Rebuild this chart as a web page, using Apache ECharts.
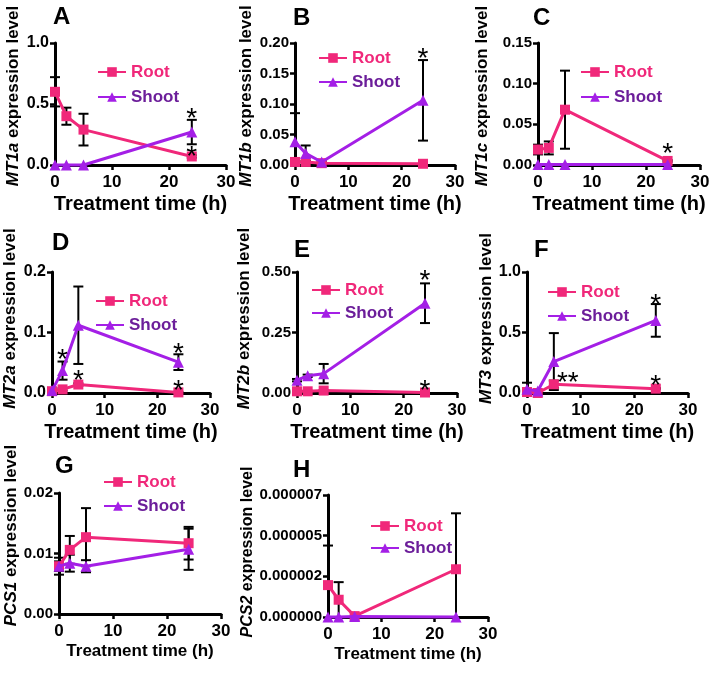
<!DOCTYPE html>
<html><head><meta charset="utf-8">
<script src="https://cdn.jsdelivr.net/npm/echarts@6/dist/echarts.min.js"></script>
<style>html,body{margin:0;padding:0;background:#fff}#c{width:714px;height:674px}</style>
</head><body><div id="c"></div>
<script>
// ---------- data ----------
const times = [0, 2, 5, 24];
const xTicks = [0, 10, 20, 30];

const mt1aRoot = [0.60, 0.40, 0.29, 0.07];
const mt1aRootSd = [0.12, 0.07, 0.13, 0.01];
const mt1aShoot = [0.00, 0.00, 0.00, 0.27];
const mt1aShootSd = [0, 0, 0, 0.10];
const mt1aStars = [[24, 0.44, 1], [24, 0.13, 1]];

const mt1bRoot = [0.005, 0.005, 0.003, 0.002];
const mt1bRootSd = [0.002, 0.002, 0.001, 0.001];
const mt1bShoot = [0.038, 0.019, 0.005, 0.106];
const mt1bShootSd = [0.047, 0.013, 0.002, 0.066];
const mt1bStars = [[24, 0.186, 1]];

const mt1cRoot = [0.019, 0.021, 0.068, 0.005];
const mt1cRootSd = [0.006, 0.008, 0.048, 0.001];
const mt1cShoot = [0.0005, 0.0005, 0.0005, 0.0005];
const mt1cShootSd = [0, 0, 0, 0];
const mt1cStars = [[24, 0.0226, 1]];

const mt2aRoot = [0.003, 0.006, 0.014, 0.001];
const mt2aRootSd = [0.001, 0.002, 0.002, 0.001];
const mt2aShoot = [0.004, 0.037, 0.112, 0.051];
const mt2aShootSd = [0.002, 0.015, 0.064, 0.013];
const mt2aStars = [[2, 0.068, 1], [5, 0.032, 1], [24, 0.077, 1], [24, 0.0165, 1]];

const mt2bRoot = [0.007, 0.007, 0.010, 0.002];
const mt2bRootSd = [0.002, 0.002, 0.002, 0.001];
const mt2bShoot = [0.053, 0.071, 0.080, 0.371];
const mt2bShootSd = [0.005, 0.005, 0.040, 0.082];
const mt2bStars = [[24, 0.496, 1], [24, 0.039, 1]];

const mt3Root = [0.008, 0.0, 0.072, 0.036];
const mt3RootSd = [0.003, 0.002, 0.03, 0.005];
const mt3Shoot = [0.03, 0.017, 0.26, 0.60];
const mt3ShootSd = [0.055, 0.01, 0.235, 0.135];
const mt3Stars = [[7.6, 0.147, 2], [24, 0.79, 1], [24, 0.119, 1]];

const pcs1Root = [0.0079, 0.0106, 0.0127, 0.0117];
const pcs1RootSd = [0.0014, 0.0023, 0.0048, 0.0027];
const pcs1Shoot = [0.0079, 0.0084, 0.0079, 0.0107];
const pcs1ShootSd = [0.0008, 0.0014, 0.0010, 0.0034];
const pcs1Stars = [];

const pcs2Root = [1.83e-6, 0.99e-6, 0.05e-6, 2.74e-6];
const pcs2RootSd = [2.27e-6, 1.01e-6, 0, 3.21e-6];
const pcs2Shoot = [0, 0, 0.03e-6, 0];
const pcs2ShootSd = [0, 0, 0, 0];
const pcs2Stars = [];

// ---------- styles ----------
const PINK = '#f0287a', VIOLET = '#a41fe6', PURPLE_TXT = '#6c1e9a';
const FONT = 'Liberation Sans';

const panels = [
  {letter:'A', gene:'MT1a', root:mt1aRoot, rootSd:mt1aRootSd, shoot:mt1aShoot, shootSd:mt1aShootSd, stars:mt1aStars,
   yMax:1.0, yStep:0.5, dec:1, grid:{left:55,top:43,width:171,height:122}, nameGap:33, namePad:16,
   legend:{left:97,top:63,gap:7}, letterPos:[53,5], xNameSize:20, yNameSize:17, yTick:16},
  {letter:'B', gene:'MT1b', root:mt1bRoot, rootSd:mt1bRootSd, shoot:mt1bShoot, shootSd:mt1bShootSd, stars:mt1bStars,
   yMax:0.20, yStep:0.05, dec:2, grid:{left:295,top:43,width:160,height:122}, nameGap:40, namePad:16,
   legend:{left:318,top:49,gap:6}, letterPos:[293,6], xNameSize:20, yNameSize:17, yTick:15},
  {letter:'C', gene:'MT1c', root:mt1cRoot, rootSd:mt1cRootSd, shoot:mt1cShoot, shootSd:mt1cShootSd, stars:mt1cStars,
   yMax:0.15, yStep:0.05, dec:2, grid:{left:538,top:43,width:162,height:122}, nameGap:47, namePad:16,
   legend:{left:580,top:63,gap:7}, letterPos:[533,6], xNameSize:20, yNameSize:17, yTick:15},
  {letter:'D', gene:'MT2a', root:mt2aRoot, rootSd:mt2aRootSd, shoot:mt2aShoot, shootSd:mt2aShootSd, stars:mt2aStars,
   yMax:0.2, yStep:0.1, dec:1, grid:{left:52,top:272,width:158,height:121}, nameGap:33, namePad:28,
   legend:{left:95,top:292,gap:6}, letterPos:[52,231], xNameSize:20, yNameSize:17, yTick:16},
  {letter:'E', gene:'MT2b', root:mt2bRoot, rootSd:mt2bRootSd, shoot:mt2bShoot, shootSd:mt2bShootSd, stars:mt2bStars,
   yMax:0.5, yStep:0.25, dec:2, grid:{left:297,top:272,width:160,height:121}, nameGap:44, namePad:28,
   legend:{left:311,top:281,gap:5}, letterPos:[294,238], xNameSize:20, yNameSize:17, yTick:15},
  {letter:'F', gene:'MT3', root:mt3Root, rootSd:mt3RootSd, shoot:mt3Shoot, shootSd:mt3ShootSd, stars:mt3Stars,
   yMax:1.0, yStep:0.5, dec:1, grid:{left:527,top:272,width:161,height:121}, nameGap:32, namePad:28,
   legend:{left:547,top:283,gap:6}, letterPos:[534,238], xNameSize:20, yNameSize:17, yTick:16},
  {letter:'G', gene:'PCS1', root:pcs1Root, rootSd:pcs1RootSd, shoot:pcs1Shoot, shootSd:pcs1ShootSd, stars:pcs1Stars,
   yMax:0.02, yStep:0.01, dec:2, grid:{left:59,top:493,width:162,height:121}, nameGap:34, namePad:36,
   legend:{left:103,top:473,gap:6}, letterPos:[55,454], xNameSize:17, yNameSize:17, yTick:15},
  {letter:'H', gene:'PCS2', root:pcs2Root, rootSd:pcs2RootSd, shoot:pcs2Shoot, shootSd:pcs2ShootSd, stars:pcs2Stars,
   yMax:7e-6, yStep:7e-6/3, dec:6, grid:{left:328,top:495,width:160,height:122}, nameGap:72, namePad:8,
   legend:{left:370,top:517,gap:4}, letterPos:[293,458], xNameSize:17, yNameSize:16, yTick:15}
];

function errItem(params, api) {
  const x = api.value(0), m = api.value(1), s = api.value(2);
  if (!(s > 0)) return null;
  const hi = m + s; let lo = m - s; let capLo = true;
  if (lo < 0) { lo = 0; capLo = false; }
  const pt = api.coord([x, hi]), pb = api.coord([x, lo]);
  const w = 5, st = {stroke:'#000', lineWidth:2};
  const ch = [
    {type:'line', shape:{x1:pt[0], y1:pt[1], x2:pb[0], y2:pb[1]}, style:st},
    {type:'line', shape:{x1:pt[0]-w, y1:pt[1], x2:pt[0]+w, y2:pt[1]}, style:st}
  ];
  if (capLo) ch.push({type:'line', shape:{x1:pb[0]-w, y1:pb[1], x2:pb[0]+w, y2:pb[1]}, style:st});
  return {type:'group', children:ch};
}
function starItem(params, api) {
  const c = api.coord([api.value(0), api.value(1)]);
  return {type:'text', x:c[0], y:c[1]+8, style:{text:'*'.repeat(api.value(2)), fontSize:28, fontFamily:FONT, fill:'#000', align:'center', verticalAlign:'middle'}};
}

const grids = [], xAxes = [], yAxes = [], series = [], legends = [], graphics = [];
panels.forEach((p, i) => {
  grids.push(Object.assign({}, p.grid));
  xAxes.push({
    gridIndex:i, type:'value', min:xTicks[0], max:xTicks[xTicks.length-1], interval:xTicks[1]-xTicks[0],
    name:'Treatment time (h)', nameLocation:'middle', nameGap:29,
    nameTextStyle:{fontSize:p.xNameSize, fontWeight:'bold', fontFamily:FONT, color:'#000'},
    axisLine:{show:true, onZero:false, lineStyle:{color:'#000', width:3}},
    axisTick:{show:true, length:5, lineStyle:{color:'#000', width:2.5}},
    axisLabel:{fontSize:17, fontWeight:'bold', fontFamily:FONT, color:'#000', margin:9},
    splitLine:{show:false}
  });
  yAxes.push({
    gridIndex:i, type:'value', min:0, max:p.yMax, interval:p.yStep,
    name:'{i|' + p.gene + '} expression level', nameLocation:'middle', nameGap:p.nameGap,
    nameTextStyle:{fontSize:p.yNameSize, fontWeight:'bold', fontFamily:FONT, color:'#000', padding:[0,0,0,p.namePad],
      rich:{i:{fontSize:p.yNameSize, fontWeight:'bold', fontStyle:'italic', fontFamily:FONT, color:'#000'}}},
    axisLine:{show:true, lineStyle:{color:'#000', width:3}},
    axisTick:{show:true, length:5, lineStyle:{color:'#000', width:2.5}},
    axisLabel:{fontSize:p.yTick, fontWeight:'bold', fontFamily:FONT, color:'#000', margin:6,
      formatter: v => Number(v).toFixed(p.dec)},
    splitLine:{show:false}
  });
  series.push({type:'custom', xAxisIndex:i, yAxisIndex:i, z:1, clip:false, renderItem:errItem,
    data: times.map((t,k)=>[t, p.root[k], p.rootSd[k]]), encode:{x:0, y:1}, silent:true});
  series.push({type:'custom', xAxisIndex:i, yAxisIndex:i, z:1, clip:false, renderItem:errItem,
    data: times.map((t,k)=>[t, p.shoot[k], p.shootSd[k]]), encode:{x:0, y:1}, silent:true});
  series.push({type:'line', name:'Root', xAxisIndex:i, yAxisIndex:i, z:2,
    data: times.map((t,k)=>[t, p.root[k]]), symbol:'rect', symbolSize:10,
    lineStyle:{color:PINK, width:3}, itemStyle:{color:PINK}, clip:false});
  series.push({type:'line', name:'Shoot', xAxisIndex:i, yAxisIndex:i, z:3,
    data: times.map((t,k)=>[t, p.shoot[k]]), symbol:'triangle', symbolSize:11,
    lineStyle:{color:VIOLET, width:3}, itemStyle:{color:VIOLET}, clip:false});
  series.push({type:'custom', xAxisIndex:i, yAxisIndex:i, z:4, clip:false, renderItem:starItem,
    data: p.stars, encode:{x:0, y:1}, silent:true});
  legends.push({
    left:p.legend.left, top:p.legend.top, orient:'vertical', itemGap:p.legend.gap,
    itemWidth:28, itemHeight:12, selectedMode:false, padding:0,
    data:[{name:'Root', textStyle:{color:PINK}}, {name:'Shoot', textStyle:{color:PURPLE_TXT}}],
    textStyle:{fontSize:17, fontWeight:'bold', fontFamily:FONT, lineHeight:18}
  });
  graphics.push({type:'text', left:p.letterPos[0], top:p.letterPos[1],
    style:{text:p.letter, fontSize:24, fontWeight:'bold', fontFamily:FONT, fill:'#000'}});
});

const chart = echarts.init(document.getElementById('c'), null, {renderer:'canvas'});
chart.setOption({
  animation:false, backgroundColor:'#fff',
  grid:grids, xAxis:xAxes, yAxis:yAxes, series:series, legend:legends, graphic:graphics
});
</script></body></html>
